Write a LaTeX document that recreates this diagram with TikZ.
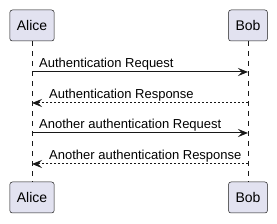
\documentclass[tikz,border=0pt]{standalone}
\usepackage{fontspec}
\setmainfont{Liberation Sans}
\usetikzlibrary{arrows.meta}
\definecolor{partfill}{HTML}{E2E2F0}
\definecolor{linea}{HTML}{181818}
\begin{document}
\begin{tikzpicture}[x=1pt, y=-1pt,
    partecipante/.style={draw=linea, fill=partfill, line width=0.5pt, rounded corners=2.5pt,
        minimum height=31pt, inner xsep=7pt, font=\fontsize{14}{16}\selectfont},
    vita/.style={draw=linea, line width=0.5pt, dash pattern=on 5pt off 5pt},
    messaggio/.style={draw=linea, line width=1pt, -{Stealth[length=10pt, width=8pt, inset=4pt]}},
    risposta/.style={messaggio, dash pattern=on 2pt off 2pt},
    etichetta/.style={anchor=base west, inner sep=0pt, font=\fontsize{13}{15}\selectfont}]
    \useasboundingbox (0,0) rectangle (277,224);

    % Partecipanti
    \node[partecipante] (aliceSu)  at (32,25.5)  {Alice};
    \node[partecipante] (bobSu)    at (248,25.5) {Bob};
    \node[partecipante] (aliceGiu) at (32,197.5)  {Alice};
    \node[partecipante] (bobGiu)   at (248,197.5) {Bob};

    % Linee di vita
    \draw[vita] (aliceSu) -- (aliceGiu);
    \draw[vita] (bobSu) -- (bobGiu);

    % Punti dei messaggi sulle linee di vita
    \foreach \i/\y in {1/72, 2/103, 3/133, 4/164} {
        \coordinate (a\i) at (32,\y);
        \coordinate (b\i) at (248,\y);
    }

    % Messaggi
    \draw[messaggio] (a1) -- (b1);
    \node[etichetta] (m1) at ([xshift=7pt, yshift=4.5pt]a1) {Authentication Request};
    \draw[risposta] (b2) -- (a2);
    \node[etichetta] (m2) at ([xshift=17pt, yshift=4.5pt]a2) {Authentication Response};
    \draw[messaggio] (a3) -- (b3);
    \node[etichetta] (m3) at ([xshift=7pt, yshift=4.5pt]a3) {Another authentication Request};
    \draw[risposta] (b4) -- (a4);
    \node[etichetta] (m4) at ([xshift=17pt, yshift=4.5pt]a4) {Another authentication Response};
\end{tikzpicture}
\end{document}
